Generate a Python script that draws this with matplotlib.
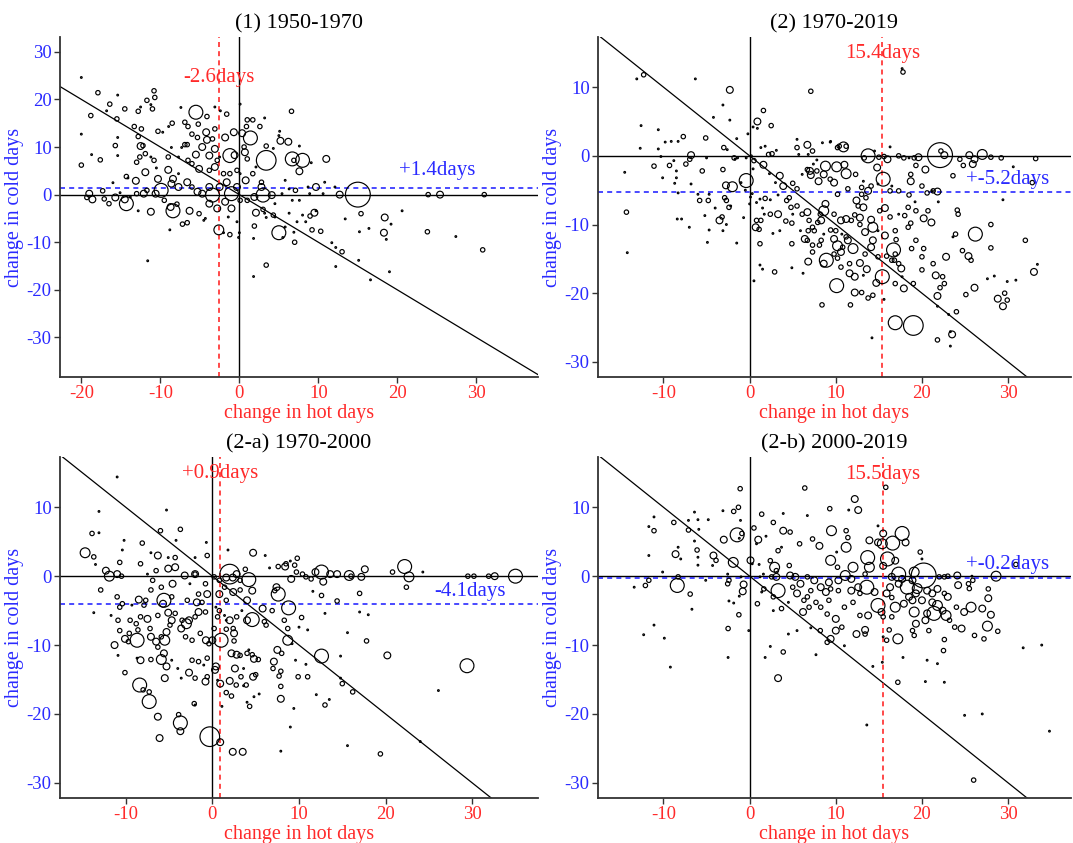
import numpy as np
import matplotlib
matplotlib.use('Agg')
from matplotlib import pyplot as plt

plt.rcParams['font.family'] = ['Liberation Serif', 'DejaVu Serif']
plt.rcParams['axes.unicode_minus'] = False

# (change in hot days, change in cold days, weight class)
p1_points = [
    (-20.0, 24.6, 0), (-17.9, 21.4, 1), (-15.4, 20.9, 0), (-18.8, 16.6, 1), (-20.0, 12.7, 0),
    (-20.0, 6.2, 1), (-17.6, 7.3, 1), (-18.7, 8.4, 0), (-16.4, 19.0, 1), (-16.8, 17.6, 0),
    (-15.5, 15.9, 1), (-14.5, 18.0, 1), (-15.4, 12.0, 0), (-15.7, 10.3, 1), (-15.4, 8.2, 0),
    (-13.3, 14.3, 1), (-12.4, 13.8, 1), (-12.8, 12.2, 1), (-12.8, 17.5, 1), (-12.5, 18.4, 0),
    (-11.7, 19.8, 1), (-10.8, 21.8, 1), (-10.7, 20.4, 1), (-11.0, 18.0, 1), (-11.2, 18.9, 0),
    (-12.5, 10.2, 2), (-12.2, 10.3, 1), (-10.3, 13.3, 1), (-9.7, 13.1, 0), (-11.9, 8.6, 1),
    (-12.6, 7.9, 1), (-13.0, 6.8, 1), (-11.9, 4.7, 2), (-13.1, 2.9, 2), (-14.3, 3.8, 1),
    (-14.1, 3.5, 0), (-16.0, 2.5, 0), (-11.2, 7.9, 0), (-10.8, 7.2, 1), (-10.3, 3.3, 2),
    (-10.5, 5.6, 0), (-9.0, 5.2, 2), (-8.4, 3.3, 2), (-7.7, 4.4, 0), (-9.0, 7.9, 1),
    (-8.6, 9.9, 0), (-7.7, 7.9, 0), (-7.3, 9.9, 0), (-8.95, 14.3, 0), (-8.5, 15.0, 1),
    (-7.4, 18.3, 0), (-6.9, 15.2, 1), (-6.5, 14.3, 1), (-5.5, 17.3, 4), (-4.1, 16.4, 1),
    (-5.2, 14.8, 1), (-6.0, 12.7, 1), (-6.6, 10.5, 1), (-6.9, 10.5, 1), (-5.3, 12.0, 1),
    (-4.2, 13.1, 2), (-4.1, 11.5, 2), (-4.7, 10.0, 2), (-5.5, 8.4, 2), (-3.8, 8.2, 2),
    (-3.1, 18.4, 0), (-2.4, 17.6, 0), (-1.6, 16.9, 1), (-3.1, 13.8, 1), (-3.4, 11.7, 1),
    (-3.1, 9.6, 2), (-2.5, 7.9, 0), (-2.8, 7.2, 1), (-3.1, 5.8, 2), (-1.8, 12.0, 2),
    (-0.7, 13.1, 2), (-1.2, 8.2, 4), (-0.6, 8.3, 2), (0.1, 19.0, 0), (0.35, 12.9, 2),
    (1.4, 11.9, 4), (0.6, 10.0, 1), (0.7, 8.9, 2), (1.0, 7.5, 1), (0.9, 14.3, 1),
    (1.7, 15.7, 1), (1.0, 15.7, 1), (2.6, 14.3, 1), (3.2, 16.1, 0), (3.4, 10.2, 1),
    (3.4, 7.2, 5), (4.3, 9.7, 0), (5.0, 12.4, 0), (5.1, 13.3, 0), (5.2, 11.3, 2),
    (6.2, 11.1, 2), (6.6, 17.5, 1), (7.6, 10.2, 0), (6.7, 7.5, 4), (8.0, 7.2, 4),
    (7.6, 4.9, 2), (6.9, 7.2, 1), (9.1, 6.7, 0), (11.0, 7.5, 2), (10.8, 2.6, 0),
    (9.7, 1.6, 2), (8.7, 1.6, 0), (12.1, 1.6, 0), (12.7, 0.0, 2), (15.0, 0.0, 6),
    (23.9, 0.0, 1), (25.4, 0.0, 2), (31.0, 0.0, 1), (20.6, -3.4, 0), (18.4, -4.8, 2),
    (19.2, -6.2, 0), (18.3, -8.0, 2), (18.6, -9.4, 0), (15.4, -4.0, 1), (13.4, -5.1, 0),
    (15.2, -7.8, 0), (16.4, -7.1, 0), (23.8, -7.8, 1), (27.4, -8.8, 0), (30.8, -11.6, 1),
    (19.0, -16.2, 0), (16.6, -17.9, 0), (15.1, -13.8, 0), (13.0, -12.0, 1), (12.2, -11.1, 0),
    (11.7, -10.1, 0), (12.2, -15.1, 0), (10.3, -7.7, 1), (9.2, -7.4, 1), (9.5, -3.8, 2),
    (9.7, -3.4, 0), (8.95, -4.5, 1), (8.4, -5.7, 0), (7.3, -5.7, 0), (7.0, -10.0, 1),
    (6.9, -7.9, 0), (5.0, -8.0, 4), (5.5, -9.0, 0), (3.4, -14.8, 1), (1.8, -17.2, 0),
    (1.8, -9.2, 0), (1.9, -6.6, 1), (2.1, -3.8, 2), (3.0, -3.1, 1), (4.5, -4.7, 0),
    (4.3, -4.3, 1), (3.4, -4.8, 0), (-0.3, -5.7, 0), (0.0, -8.0, 0), (-0.1, -9.0, 0),
    (-1.2, -8.4, 1), (-2.0, -8.0, 0), (-2.6, -7.4, 3), (-1.4, -4.7, 0), (-1.0, -2.9, 2),
    (-1.8, -1.5, 2), (-2.8, -2.9, 2), (-3.8, -1.9, 2), (-4.3, -5.0, 0), (-4.5, -5.4, 0),
    (-5.1, -4.0, 1), (-6.3, -3.4, 2), (-6.6, -5.9, 1), (-7.2, -6.2, 1), (-8.8, -7.4, 0),
    (-8.4, -3.4, 4), (-8.7, -2.6, 2), (-7.9, -2.0, 1), (-11.2, -3.6, 2), (-11.6, -13.9, 0),
    (-12.8, -3.4, 0), (-14.3, -1.9, 4), (-14.5, -1.0, 2), (-15.7, -0.6, 2), (-16.5, -1.9, 1),
    (-17.1, -0.9, 1), (-19.0, 0.2, 2), (-18.6, -1.0, 2), (-19.3, -0.6, 1), (-17.3, 0.8, 1),
    (-15.1, 0.4, 0), (-13.8, -0.5, 0), (-13.0, 0.2, 1), (-12.1, 0.2, 2), (-11.7, 0.9, 1),
    (-10.6, 0.2, 2), (-9.9, 0.9, 4), (-9.5, -1.2, 1), (-8.6, 2.3, 2), (-7.7, 1.6, 2),
    (-6.6, 2.6, 2), (-6.0, 1.6, 1), (-5.3, 0.6, 2), (-4.7, 0.2, 2), (-3.8, 1.6, 2),
    (-3.4, -0.1, 4), (-2.5, 1.6, 2), (-1.6, 2.6, 2), (-1.0, 0.2, 4), (-0.3, 1.6, 2),
    (0.1, 4.4, 0), (0.8, 3.0, 2), (1.9, -0.5, 2), (2.8, 1.6, 2), (3.0, -0.1, 4),
    (4.1, -0.1, 2), (1.0, -1.2, 1), (0.1, -1.2, 1), (2.8, 2.6, 1), (2.1, 5.8, 0),
    (1.7, 4.4, 1), (-0.3, 5.1, 1), (-1.2, 4.4, 1), (-2.0, 4.4, 1), (-3.8, 5.1, 1),
    (-5.1, 5.4, 2), (-6.0, 6.5, 1), (-6.5, 7.2, 1), (5.8, 3.0, 0), (5.4, 0.2, 0),
    (6.3, 1.2, 0), (7.1, 0.9, 1), (6.7, -1.2, 0), (7.6, -1.2, 0), (8.9, 0.2, 0),
    (10.6, 0.2, 0), (8.0, -4.3, 0), (6.3, -3.9, 0), (4.5, -1.9, 0), (3.2, -3.9, 0),
    (5.8, -6.8, 0),
]

p2_points = [
    (-13.1, 11.2, 0), (-12.3, 11.8, 1), (-12.6, 4.4, 0), (-12.7, 1.1, 0), (-14.5, -2.4, 0),
    (-14.3, -8.2, 1), (-14.2, -14.1, 0), (-6.3, 11.2, 0), (-2.3, 9.6, 2), (-3.1, 7.4, 0),
    (-4.2, 5.6, 0), (-2.3, 5.2, 0), (-0.2, 3.2, 0), (-1.5, 2.5, 0), (-5.1, 2.6, 1),
    (-7.7, 2.8, 1), (-8.3, 2.1, 0), (-9.1, 2.1, 0), (-9.8, 2.0, 0), (-10.6, 3.8, 0),
    (-10.6, 1.0, 0), (-10.3, -0.1, 0), (-11.1, -1.5, 1), (-9.3, -1.4, 1), (-8.8, -0.7, 0),
    (-8.5, -2.2, 0), (-8.5, -3.2, 0), (-8.7, -4.0, 0), (-10.1, -3.2, 0), (-8.3, -5.4, 0),
    (-8.4, -9.2, 0), (-7.9, -9.2, 0), (-7.0, -10.4, 0), (-6.8, 0.1, 2), (-6.95, -0.5, 1),
    (-7.4, -1.2, 1), (-6.8, -4.1, 0), (-6.0, -5.6, 0), (-5.5, -2.2, 1), (-5.0, -0.3, 0),
    (-5.8, -6.5, 1), (-4.7, -5.6, 0), (-4.8, -6.5, 1), (-5.2, -8.7, 0), (-4.7, -10.8, 0),
    (-4.9, -12.6, 0), (-3.5, -9.4, 2), (-3.2, -8.9, 1), (-2.7, -10.0, 0), (-3.1, -10.9, 0),
    (-4.0, -7.6, 0), (-2.9, -6.1, 1), (-2.7, -6.5, 1), (-2.2, -7.3, 0), (-2.4, -7.5, 1),
    (-2.0, -4.5, 3), (-2.75, -4.3, 2), (-3.1, -2.0, 1), (-3.0, 1.2, 1), (-2.6, 0.9, 0),
    (-1.8, -0.3, 1), (-1.4, -0.3, 0), (-1.0, -3.9, 0), (-0.4, -3.6, 4), (-0.5, -5.0, 0),
    (-0.7, -9.0, 0), (-1.5, -12.7, 0), (-1.7, -0.5, 0), (-0.4, -0.3, 0), (0.2, 0.0, 0),
    (0.5, -0.7, 1), (0.4, -1.9, 0), (0.0, -7.0, 0), (0.1, -6.0, 0), (0.3, -5.5, 0),
    (0.9, 5.0, 2), (1.6, 6.6, 1), (0.4, 4.2, 0), (0.9, 4.0, 0), (1.8, 1.4, 0),
    (1.3, 1.2, 0), (2.5, 4.4, 1), (3.1, 0.8, 0), (2.2, 0.2, 1), (2.6, 0.3, 1),
    (1.6, -1.3, 2), (2.3, -2.6, 0), (3.0, -3.9, 0), (3.5, -2.9, 2), (3.9, -4.4, 2),
    (4.6, -6.1, 1), (3.3, -5.7, 0), (2.4, -6.4, 0), (1.8, -6.2, 1), (1.2, -6.3, 0),
    (0.8, -6.8, 0), (1.5, -7.6, 0), (0.8, -9.4, 1), (1.3, -9.4, 1), (0.7, -10.4, 2),
    (1.1, -10.7, 1), (1.2, -12.8, 1), (2.7, -11.3, 0), (3.5, -10.9, 0), (3.3, -8.5, 2),
    (2.4, -8.5, 1), (1.7, -8.5, 0), (4.8, -7.5, 1), (5.0, -8.5, 0), (4.2, -9.5, 1),
    (4.9, -9.8, 1), (5.9, -10.9, 0), (4.9, -12.8, 1), (6.4, -12.1, 2), (6.7, -12.3, 1),
    (6.8, -10.9, 1), (7.3, -13.0, 1), (7.3, -14.0, 1), (6.8, -15.4, 2), (6.2, -17.1, 0),
    (4.9, -16.3, 0), (2.9, -16.9, 1), (1.5, -16.5, 0), (1.2, -15.9, 0), (0.5, -18.2, 0),
    (6.7, 1.6, 2), (6.8, 0.2, 0), (5.7, 0.2, 0), (5.5, 1.2, 1), (7.3, 0.7, 1),
    (8.45, 1.9, 0), (9.35, 2.0, 0), (10.2, 1.2, 1), (10.9, 1.3, 3), (11.2, 1.4, 1),
    (13.75, 0.0, 4), (13.3, -0.3, 1), (14.5, 0.7, 0), (15.0, -0.2, 1), (15.6, -0.1, 1),
    (16.3, 1.3, 0), (16.0, -0.5, 2), (17.3, 0.0, 1), (17.9, -0.3, 1), (18.5, -0.3, 0),
    (19.1, -0.3, 1), (19.6, -0.2, 2), (22.1, 0.1, 6), (22.6, 0.1, 2), (22.2, 0.7, 1),
    (24.4, -0.5, 1), (24.8, -1.4, 1), (25.5, 0.1, 2), (25.9, -1.2, 2), (26.1, -0.5, 2),
    (27.0, 0.2, 3), (28.0, -0.2, 1), (29.2, -0.3, 1), (33.2, -0.4, 1), (30.6, -1.6, 0),
    (29.4, -6.4, 0), (32.8, -3.9, 1), (32.0, -12.3, 1), (33.0, -16.9, 2), (33.4, -15.8, 0),
    (30.9, -18.1, 0), (29.9, -18.3, 0), (28.4, -17.5, 0), (27.6, -17.9, 0), (28.8, -20.8, 2),
    (29.6, -20.0, 1), (29.4, -21.9, 2), (29.9, -21.0, 1), (28.0, -10.0, 1), (28.0, -13.4, 1),
    (26.2, -11.4, 4), (26.1, -19.2, 2), (25.1, -20.2, 1), (25.4, -14.6, 2), (25.7, -15.2, 1),
    (24.7, -13.8, 1), (23.9, -11.4, 1), (23.6, -11.8, 0), (24.1, -7.9, 1), (24.2, -8.5, 1),
    (23.6, -2.9, 1), (21.9, -6.7, 0), (21.8, -5.2, 2), (21.2, -5.1, 0), (20.6, -5.4, 1),
    (20.0, -4.4, 1), (20.4, -2.0, 2), (19.3, -1.4, 1), (18.7, -2.7, 1), (18.7, -3.7, 2),
    (18.5, -5.7, 1), (19.2, -6.7, 0), (18.4, -7.5, 1), (18.0, -8.7, 1), (18.7, -9.8, 1),
    (18.4, -10.4, 1), (19.3, -8.0, 1), (20.7, -8.0, 1), (20.2, -9.1, 2), (21.1, -9.7, 2),
    (21.3, -5.1, 1), (16.9, -10.9, 1), (17.0, -12.2, 1), (16.7, -13.7, 4), (16.9, -14.3, 1),
    (16.5, -15.2, 1), (17.3, -15.7, 1), (17.6, -16.4, 2), (17.7, -17.6, 0), (16.9, -18.6, 1),
    (17.9, -19.3, 2), (19.0, -18.6, 1), (19.3, -12.3, 1), (18.8, -13.5, 1), (20.0, -14.7, 1),
    (20.0, -16.6, 1), (20.2, -13.5, 1), (21.6, -17.4, 2), (21.3, -15.7, 1), (22.8, -14.7, 2),
    (22.4, -17.6, 1), (21.8, -20.4, 2), (21.8, -21.9, 0), (22.1, -19.2, 1), (22.6, -18.6, 1),
    (24.0, -22.7, 1), (23.5, -26.0, 2), (23.3, -25.6, 0), (21.8, -26.8, 1), (23.3, -27.7, 0),
    (23.1, -23.1, 0), (19.0, -24.7, 5), (16.9, -24.3, 4), (14.2, -26.5, 0), (15.6, -20.9, 0),
    (11.7, -21.7, 1), (8.4, -21.7, 1), (12.2, -19.9, 2), (13.0, -19.9, 1), (13.75, -20.7, 1),
    (14.3, -20.3, 1), (14.7, -18.5, 2), (15.4, -17.6, 4), (10.1, -18.9, 4), (8.9, -15.2, 4),
    (8.6, -15.7, 2), (10.6, -16.2, 1), (11.6, -15.7, 1), (11.6, -17.1, 2), (12.2, -17.6, 2),
    (12.8, -15.6, 2), (13.6, -16.5, 2), (13.2, -17.4, 0), (14.1, -13.3, 2), (13.4, -14.3, 1),
    (14.9, -14.7, 1), (14.3, -12.3, 2), (13.4, -11.1, 2), (12.8, -10.0, 1), (14.3, -10.4, 3),
    (14.1, -9.3, 2), (15.7, -11.6, 2), (14.9, -10.9, 0), (12.0, -13.5, 3), (11.4, -12.3, 2),
    (10.8, -13.3, 1), (10.2, -13.1, 3), (10.6, -14.0, 2), (9.8, -12.1, 2), (11.2, -11.8, 1),
    (10.0, -10.9, 1), (9.4, -10.8, 1), (8.6, -11.4, 0), (8.3, -9.4, 2), (8.6, -8.0, 3),
    (8.2, -8.5, 1), (8.8, -7.0, 2), (9.8, -8.5, 1), (10.6, -9.4, 2), (11.2, -9.2, 2),
    (11.8, -9.4, 1), (12.2, -8.6, 1), (12.8, -9.0, 2), (12.6, -7.3, 1), (13.2, -7.5, 2),
    (12.4, -6.5, 2), (13.0, -5.6, 1), (13.5, -6.1, 1), (13.75, -5.1, 2), (13.0, -4.6, 1),
    (11.4, -4.8, 1), (10.2, -5.6, 1), (9.8, -3.9, 2), (9.35, -3.4, 1), (8.6, -2.7, 2),
    (8.0, -3.7, 2), (7.8, -2.2, 1), (7.0, -2.2, 2), (7.1, -2.8, 2), (6.7, -2.0, 1),
    (6.1, -2.7, 0), (5.0, -4.0, 1), (5.5, -4.8, 1), (4.3, -6.5, 1), (6.1, -8.5, 1),
    (5.5, -7.3, 1), (6.7, -8.2, 2), (6.9, -9.4, 1), (7.3, -10.4, 1), (7.9, -9.7, 1),
    (7.5, -10.9, 1), (8.3, -12.3, 1), (8.1, -13.0, 1), (9.8, -14.3, 1), (10.2, -14.9, 1),
    (10.7, -11.4, 0), (7.4, -1.2, 0), (7.8, -0.6, 0), (8.8, -1.5, 3), (10.1, -1.6, 3),
    (11.0, -1.3, 2), (11.2, -2.6, 3), (12.3, -2.7, 1), (13.2, -3.7, 0), (14.1, -4.4, 1),
    (14.8, -1.7, 2), (15.5, -3.4, 4), (14.9, -4.1, 0), (16.5, -4.4, 0), (17.3, -5.1, 1),
    (16.3, -5.1, 1), (16.3, -8.9, 1), (15.7, -7.6, 2), (17.3, -8.5, 0), (15.1, -8.0, 1),
    (15.9, -14.6, 1), (16.8, -15.2, 1), (17.8, 12.2, 1), (17.7, 12.7, 0), (7.1, 9.4, 1),
    (5.5, 2.4, 0), (9.4, 2.1, 0), (10.4, 1.4, 1),
]

p3_points = [
    (-11.0, 14.4, 0), (-13.1, 9.4, 0), (-5.3, 9.6, 0), (-13.9, 6.2, 1), (-13.1, 6.3, 0),
    (-6.0, 6.6, 1), (-3.7, 6.8, 1), (-14.7, 3.4, 3), (-13.7, 2.8, 1), (-13.5, 1.7, 0),
    (-12.3, 0.8, 2), (-11.9, 0.0, 3), (-11.0, 0.3, 2), (-12.9, -2.0, 1), (-13.7, -5.3, 0),
    (-11.0, -3.0, 1), (-10.7, 2.0, 1), (-10.2, 5.2, 0), (-10.4, 3.8, 0), (-10.5, 0.0, 1),
    (-10.4, -4.0, 1), (-10.7, -4.5, 1), (-11.7, -5.7, 0), (-10.9, -6.4, 1), (-10.7, -7.9, 1),
    (-10.1, -9.1, 2), (-11.3, -10.0, 2), (-10.9, -11.5, 0), (-10.1, -14.0, 1), (-9.7, -9.5, 1),
    (-9.6, -8.3, 1), (-8.7, -9.3, 4), (-8.3, -12.2, 2), (-8.7, -11.9, 0), (-8.4, -15.8, 4),
    (-8.0, -16.5, 1), (-7.3, -18.2, 4), (-7.3, -16.8, 1), (-6.3, -20.4, 2), (-6.1, -23.5, 2),
    (-3.7, -21.3, 4), (-3.7, -22.5, 2), (-3.9, -20.1, 1), (-2.1, -18.5, 1), (-2.0, -18.7, 0),
    (-0.3, -23.3, 5), (0.9, -24.1, 2), (2.35, -25.5, 2), (3.5, -25.5, 2), (0.9, -15.6, 2),
    (0.6, -15.1, 0), (-0.8, -15.3, 2), (-0.6, -14.6, 1), (0.3, -13.6, 2), (0.4, -13.1, 2),
    (1.1, -18.9, 0), (1.6, -16.9, 1), (2.2, -17.4, 1), (2.75, -15.8, 1), (2.0, -15.2, 2),
    (3.6, -15.9, 0), (3.9, -15.8, 1), (4.0, -18.3, 0), (4.3, -18.9, 1), (4.8, -17.5, 0),
    (5.4, -17.1, 0), (4.7, -14.6, 2), (5.0, -14.3, 1), (3.3, -14.6, 1), (2.6, -13.4, 2),
    (3.6, -13.4, 0), (4.8, -12.0, 2), (5.3, -12.1, 1), (4.6, -11.4, 1), (4.0, -11.2, 1),
    (4.2, -10.7, 0), (3.2, -11.5, 1), (2.8, -11.4, 2), (2.2, -11.2, 2), (2.5, -9.4, 1),
    (2.5, -8.3, 2), (2.4, -7.6, 1), (1.6, -7.7, 1), (2.0, -6.4, 2), (2.8, -5.9, 1),
    (3.4, -5.0, 0), (4.0, -6.4, 2), (4.6, -6.3, 4), (5.8, -4.7, 2), (6.0, -6.6, 1),
    (6.2, -7.1, 1), (6.9, -5.0, 1), (7.6, -2.6, 4), (7.2, -2.1, 1), (7.4, -1.6, 2),
    (8.8, -4.6, 4), (8.3, -6.4, 1), (8.7, -7.6, 1), (10.0, -7.4, 0), (11.0, -7.8, 0),
    (10.3, -6.0, 1), (8.7, -9.3, 3), (9.2, -9.8, 0), (7.5, -10.7, 2), (8.0, -11.2, 1),
    (7.1, -12.4, 2), (7.0, -13.4, 1), (7.9, -13.8, 1), (7.7, -14.5, 1), (7.9, -16.0, 1),
    (7.9, -17.8, 2), (9.4, -19.2, 0), (9.0, -21.9, 0), (7.9, -25.4, 0), (9.6, -12.2, 0),
    (10.8, -12.8, 0), (9.9, -14.6, 1), (11.0, -14.6, 1), (12.6, -11.6, 4), (14.8, -11.6, 0),
    (14.8, -14.8, 0), (15.0, -15.6, 1), (16.2, -16.8, 1), (12.0, -17.2, 0), (13.0, -18.7, 1),
    (13.5, -17.9, 0), (15.6, -24.6, 0), (19.4, -25.8, 1), (24.0, -24.0, 0), (26.1, -16.6, 0),
    (29.4, -13.0, 4), (20.2, -11.5, 2), (17.8, -9.4, 1), (15.6, -8.2, 0), (17.0, -5.2, 0),
    (18.0, -5.6, 0), (17.0, -2.5, 1), (14.4, -3.6, 1), (12.6, -2.8, 1), (13.0, -5.4, 0),
    (11.6, -2.2, 0), (14.4, 0.3, 2), (13.6, 0.3, 2), (12.8, -0.8, 2), (12.6, 0.6, 4),
    (11.9, 0.6, 2), (11.4, -0.4, 1), (10.8, -0.1, 1), (10.4, 0.3, 1), (9.7, 0.6, 1),
    (9.1, -0.4, 2), (8.4, 1.4, 2), (9.5, 1.6, 1), (9.8, 2.6, 1), (9.0, 2.2, 0),
    (8.5, 1.8, 1), (7.6, 1.4, 1), (6.6, 1.2, 0), (6.1, 3.0, 0), (4.7, 3.4, 2),
    (1.8, 3.8, 0), (2.0, 0.3, 5), (2.35, -0.2, 2), (1.6, -0.2, 2), (2.8, 0.3, 2),
    (4.2, -0.5, 4), (3.2, -0.6, 1), (3.8, 1.0, 1), (1.4, -1.6, 1), (0.8, -2.6, 2),
    (1.6, -3.5, 1), (2.4, -2.3, 2), (3.2, -2.0, 1), (4.6, -2.1, 2), (4.0, -3.5, 2),
    (0.8, -0.6, 1), (0.2, -0.1, 1), (-0.8, -1.1, 1), (-0.6, -2.6, 2), (-1.6, -2.6, 1),
    (-2.0, 0.3, 1), (-2.6, -1.1, 0), (-2.9, -3.5, 1), (-1.8, -3.8, 2), (-1.2, -3.8, 1),
    (-0.8, -5.2, 1), (-1.6, -5.2, 2), (-2.0, -5.9, 1), (-2.7, -6.4, 2), (-3.0, -6.9, 3),
    (-3.5, -6.4, 1), (-3.6, -7.6, 2), (-3.1, -8.8, 1), (-2.35, -9.3, 1), (-1.4, -8.3, 1),
    (-0.75, -9.3, 2), (-0.4, -9.8, 1), (0.0, -9.3, 2), (1.0, -9.3, 4), (0.2, -7.6, 1),
    (0.6, -5.9, 1), (0.8, -5.0, 1), (0.4, -4.5, 0), (1.4, -5.7, 0), (1.6, -6.4, 0),
    (-4.3, -5.4, 1), (-4.7, -6.4, 2), (-4.9, -7.1, 1), (-5.3, -8.1, 2), (-5.5, -9.3, 3),
    (-5.9, -8.8, 1), (-6.5, -9.5, 2), (-6.3, -10.3, 1), (-5.6, -11.2, 2), (-5.9, -12.1, 3),
    (-5.3, -13.1, 2), (-5.5, -14.8, 2), (-4.7, -12.2, 0), (-4.0, -13.4, 0), (-3.6, -14.8, 0),
    (-2.7, -14.0, 2), (-2.0, -14.8, 1), (-2.35, -12.2, 1), (-1.6, -12.4, 1), (-1.0, -12.9, 0),
    (-0.6, -11.9, 1), (-7.1, -12.1, 1), (-7.1, -8.8, 2), (-7.2, -7.6, 1), (-7.5, -6.2, 2),
    (-8.3, -5.9, 1), (-8.6, -7.8, 1), (-8.8, -6.9, 1), (-9.5, -6.4, 1), (-6.3, -5.7, 1),
    (-5.7, -4.0, 2), (-5.1, -5.3, 2), (-5.6, -3.5, 4), (-4.7, -3.0, 1), (-4.6, -1.1, 2),
    (-5.9, -1.6, 1), (-6.9, -0.6, 1), (-7.1, -2.0, 1), (-7.7, -3.5, 1), (-8.5, -3.4, 2),
    (-7.9, -4.2, 1), (-9.3, -4.2, 0), (-4.3, 1.3, 2), (-5.1, 1.1, 2), (-6.3, 3.0, 2),
    (-6.5, 0.8, 1), (-7.5, 0.3, 0), (-8.3, 1.8, 1), (-8.1, 4.8, 1), (-7.1, 3.4, 0),
    (-4.3, 2.7, 1), (-5.1, 2.7, 0), (-2.0, 2.7, 0), (-2.0, 0.3, 2), (-3.2, 0.1, 2),
    (-0.7, 4.9, 0), (-0.6, 3.0, 1), (-4.2, 5.2, 0), (15.8, 0.1, 3), (16.0, 0.0, 1),
    (17.2, -0.1, 2), (17.6, 1.0, 2), (20.8, 0.6, 1), (22.2, 1.4, 4), (22.7, -0.1, 3),
    (22.4, -1.6, 1), (24.3, 0.6, 0), (29.5, 0.0, 1), (30.2, 0.0, 1), (31.9, 0.0, 1),
    (32.6, 0.0, 2), (35.0, 0.0, 4),
]

p4_points = [
    (-13.4, -1.6, 0), (-12.1, -1.35, 1), (-11.7, -0.6, 1), (-11.7, 3.0, 0), (-11.7, 7.2, 0),
    (-11.1, 6.6, 1), (-11.1, 8.6, 0), (-12.3, -8.5, 0), (-11.1, -7.1, 0), (-9.9, -9.0, 0),
    (-9.2, -13.2, 0), (-10.1, 0.6, 0), (-8.8, 7.8, 1), (-8.6, 3.2, 2), (-8.3, 4.2, 0),
    (-8.0, 2.5, 0), (-8.4, -1.35, 4), (-8.3, -0.1, 1), (-7.1, 8.1, 0), (-7.1, 6.7, 1),
    (-6.4, 9.3, 0), (-6.0, 8.2, 0), (-6.1, 3.8, 1), (-6.0, 2.75, 0), (-6.0, 1.6, 0),
    (-6.4, 5.1, 0), (-5.9, 6.8, 0), (-4.8, 8.2, 0), (-5.1, -0.6, 0), (-6.9, -2.6, 1),
    (-6.7, -4.8, 0), (-4.2, 3.0, 2), (-4.3, 1.55, 0), (-3.9, 2.3, 1), (-3.1, 9.5, 0),
    (-3.0, 5.3, 2), (-2.55, 0.3, 0), (-2.4, -0.6, 1), (-2.55, -1.1, 1), (-2.5, -7.6, 1),
    (-2.5, -11.8, 0), (-2.4, -3.6, 0), (-1.85, -3.9, 0), (-1.9, 2.0, 3), (-1.2, -2.9, 0),
    (-1.85, 9.4, 1), (-1.3, 10.0, 1), (-1.1, 12.7, 1), (-1.06, 8.1, 0), (-1.45, 6.0, 4),
    (-1.2, 5.5, 0), (-0.9, 6.2, 1), (-1.25, -5.6, 1), (-0.7, -1.2, 2), (-0.8, -2.2, 2),
    (-1.0, -0.1, 0), (-0.1, -7.9, 0), (0.1, 2.3, 2), (0.3, 1.8, 0), (0.5, 7.0, 1),
    (1.0, 5.3, 2), (0.8, 4.7, 0), (0.9, -4.0, 1), (1.4, -2.3, 0), (1.4, 9.0, 1),
    (1.9, 5.8, 0), (2.75, 7.8, 1), (2.9, 1.3, 3), (2.4, 2.25, 1), (2.55, -0.1, 1),
    (3.1, -0.1, 2), (3.3, -2.1, 4), (3.9, 6.6, 2), (3.9, 9.1, 0), (4.7, 6.4, 1),
    (4.6, 1.55, 1), (3.3, 3.7, 1), (3.7, 4.2, 0), (2.75, -5.0, 0), (3.7, -4.7, 1),
    (2.4, -10.2, 0), (3.9, -11.0, 1), (1.8, -11.8, 0), (3.3, -14.8, 2), (4.5, -8.4, 0),
    (5.3, -0.1, 2), (5.9, -1.1, 2), (6.3, -3.5, 1), (6.2, -5.2, 2), (5.8, 4.7, 1),
    (5.5, -7.9, 0), (6.7, 8.8, 0), (6.4, 12.8, 1), (7.3, 5.4, 1), (8.1, 4.4, 2),
    (8.2, -7.9, 1), (7.7, -11.4, 0), (7.1, -7.5, 0), (7.5, -0.6, 2), (8.25, -1.6, 2),
    (6.7, -0.1, 1), (8.85, -2.3, 2), (9.3, 9.8, 1), (9.5, 6.6, 3), (9.4, 2.3, 3),
    (9.2, -0.9, 2), (9.4, -1.85, 1), (9.2, -3.5, 1), (9.0, -5.5, 1), (9.4, -9.1, 2),
    (9.0, -9.6, 1), (10.0, -7.9, 2), (10.0, -6.2, 2), (10.3, -2.1, 1), (10.3, -0.6, 2),
    (10.2, 1.3, 1), (10.1, 3.5, 0), (11.5, 9.6, 0), (11.2, 4.2, 3), (11.4, 5.6, 1),
    (11.2, 6.6, 1), (11.1, 0.1, 3), (12.0, 1.3, 3), (12.2, 11.2, 2), (12.6, 9.6, 2),
    (12.4, -8.4, 2), (13.4, -7.8, 2), (13.4, -8.4, 1), (12.8, -5.7, 1), (13.75, -5.7, 2),
    (13.7, 2.7, 4), (13.9, 1.3, 3), (13.9, 5.2, 2), (13.6, -1.6, 4), (13.4, 0.3, 1),
    (14.9, 4.9, 2), (14.9, 7.3, 0), (15.5, 6.2, 2), (15.4, 4.7, 3), (16.0, 2.5, 4),
    (15.5, 1.5, 2), (14.9, -4.25, 4), (15.3, -5.2, 2), (15.5, -5.9, 1), (15.8, 12.9, 1),
    (16.6, 4.8, 4), (16.9, 2.25, 2), (17.3, 0.3, 4), (17.3, -1.1, 2), (16.9, -4.5, 3),
    (16.5, -5.9, 1), (17.2, -9.1, 3), (15.9, -9.3, 1), (16.2, -7.8, 1), (17.7, 6.2, 4),
    (18.1, 4.9, 2), (18.3, -1.6, 4), (18.5, -3.0, 2), (17.9, -4.0, 2), (19.1, 0.6, 3),
    (19.8, 3.5, 1), (20.0, 2.5, 0), (20.2, 0.1, 6), (19.45, -1.8, 3), (18.9, -3.5, 2),
    (19.1, -5.2, 3), (19.3, -6.9, 2), (18.9, -7.9, 1), (19.1, -8.6, 1), (20.6, -5.4, 2),
    (21.2, -2.5, 2), (21.8, -4.25, 3), (21.4, -5.4, 4), (20.4, -6.4, 2), (20.8, -7.9, 1),
    (20.6, -12.2, 0), (21.8, -12.7, 0), (20.4, -15.3, 0), (22.6, -15.4, 0), (22.5, -10.8, 1),
    (22.6, -9.2, 1), (23.0, -3.0, 2), (22.4, -5.0, 2), (22.8, -5.7, 3), (23.2, -6.4, 1),
    (23.8, -7.4, 1), (24.6, -7.6, 2), (24.0, -4.5, 1), (23.0, 0.0, 1), (24.1, 0.1, 2),
    (24.2, -1.3, 2), (24.9, -5.2, 2), (25.7, -4.5, 3), (25.5, -1.8, 1), (25.4, -1.1, 1),
    (25.9, -0.6, 1), (25.8, 0.0, 0), (28.6, 0.0, 3), (27.0, -4.7, 2), (27.7, -3.2, 2),
    (27.7, -1.85, 1), (28.0, -5.6, 2), (27.6, -7.25, 3), (27.2, -9.1, 1), (28.8, -8.0, 1),
    (26.1, -8.6, 1), (24.95, -20.2, 0), (27.0, -20.0, 0), (26.0, -29.6, 1), (31.75, -10.4, 0),
    (33.9, -10.0, 0), (34.8, -22.5, 0), (30.9, 1.7, 1), (22.6, -0.1, 1), (22.0, -0.1, 1),
    (14.3, -13.1, 0), (15.4, -12.5, 0), (13.6, -21.6, 0), (17.8, -11.8, 0), (17.2, -15.4, 1),
    (15.5, -8.8, 0), (11.0, -10.1, 0), (10.7, -7.4, 1), (4.7, 0.1, 2), (3.1, 0.8, 1),
    (1.6, 0.3, 0), (1.1, 1.7, 0), (1.2, -0.1, 0), (1.65, -1.85, 1), (2.75, -3.0, 1),
    (5.0, -1.6, 1), (5.5, -2.5, 2), (6.7, -3.0, 1), (7.1, -2.1, 1), (7.7, -3.8, 1),
    (6.9, -4.5, 1), (8.25, -4.5, 1), (4.5, -3.8, 0), (11.8, -0.4, 2), (11.8, -2.1, 2),
    (12.6, -1.6, 2), (12.8, -2.5, 1), (11.0, -4.5, 1), (12.0, -3.8, 1), (14.5, -2.3, 2),
    (15.9, -2.5, 2), (16.3, -1.6, 2), (16.5, -0.1, 2), (17.7, -0.4, 2), (18.9, -0.6, 2),
    (19.3, -2.5, 2), (20.0, -3.5, 2), (20.6, -2.1, 2), (21.2, -3.8, 2), (21.8, -1.85, 2),
    (22.6, -2.5, 1), (16.5, -3.1, 1),
]

titles = ['(1) 1950-1970', '(2) 1970-2019', '(2-a) 1970-2000', '(2-b) 2000-2019']
mean_hot = [-2.6, 15.4, 0.9, 15.5]
mean_cold = [1.4, -5.2, -4.1, -0.2]
hot_labels = ['-2.6days', '15.4days', '+0.9days', '15.5days']
cold_labels = ['+1.4days', '+-5.2days', '-4.1days', '+-0.2days']

RED = '#ff2a2a'
BLUE = '#2a2aff'
# marker area for each weight class
AREA = [1.5, 10, 24, 50, 100, 200, 320]

W, H = 1073, 843
fig = plt.figure(figsize=(W / 100, H / 100), dpi=100)


def box(x0, x1, top, bottom):
    return [x0 / W, 1 - bottom / H, (x1 - x0) / W, (bottom - top) / H]


panels = [
    dict(pts=p1_points, rect=box(60, 538, 37, 377), xlim=(-22.7, 37.8), ylim=(-38.3, 33.1),
         xt=[-20, -10, 0, 10, 20, 30], yt=[-30, -20, -10, 0, 10, 20, 30],
         hot_y=24.7, cold_xy=(25.0, 5.1)),
    dict(pts=p2_points, rect=box(598, 1071, 37, 377), xlim=(-17.6, 37.3), ylim=(-32.2, 17.3),
         xt=[-10, 0, 10, 20, 30], yt=[-30, -20, -10, 0, 10],
         hot_y=14.9, cold_xy=(29.9, -3.4)),
    dict(pts=p3_points, rect=box(60, 538, 457, 798), xlim=(-17.6, 37.6), ylim=(-32.2, 17.3),
         xt=[-10, 0, 10, 20, 30], yt=[-30, -20, -10, 0, 10],
         hot_y=14.9, cold_xy=(29.8, -2.2)),
    dict(pts=p4_points, rect=box(598, 1071, 457, 798), xlim=(-17.6, 37.3), ylim=(-32.2, 17.3),
         xt=[-10, 0, 10, 20, 30], yt=[-30, -20, -10, 0, 10],
         hot_y=14.8, cold_xy=(29.9, 1.7)),
]

for i, p in enumerate(panels):
    ax = fig.add_axes(p['rect'])
    pts = np.array(p['pts'])
    sizes = np.array(AREA)[pts[:, 2].astype(int)]

    ax.axhline(0, color='black', lw=1.0, zorder=1)
    ax.axvline(0, color='black', lw=1.0, zorder=1)
    xs = np.array(p['xlim'])
    ax.plot(xs, -xs, color='black', lw=0.9, zorder=1)
    ax.axvline(mean_hot[i], color=RED, lw=1.2, ls=(0, (3, 2.5)), zorder=2)
    ax.axhline(mean_cold[i], color=BLUE, lw=1.2, ls=(0, (3, 2.5)), zorder=2)

    ax.scatter(pts[:, 0], pts[:, 1], s=sizes, facecolors='none',
               edgecolors='black', linewidths=0.85, zorder=3)

    ax.text(mean_hot[i], p['hot_y'], hot_labels[i], color=RED, fontsize=15,
            ha='center', va='center', zorder=4)
    ax.text(p['cold_xy'][0], p['cold_xy'][1], cold_labels[i], color=BLUE, fontsize=15,
            ha='center', va='center', zorder=4)

    ax.set_xlim(p['xlim'])
    ax.set_ylim(p['ylim'])
    ax.set_xticks(p['xt'])
    ax.set_yticks(p['yt'])
    for s in ['top', 'right']:
        ax.spines[s].set_visible(False)
    for s in ['left', 'bottom']:
        ax.spines[s].set_color('#333333')
        ax.spines[s].set_linewidth(1.3)
    ax.tick_params(axis='both', direction='out', length=4, width=1, color='#333333',
                   labelsize=13.5, pad=2)
    ax.tick_params(axis='x', labelcolor=RED)
    ax.tick_params(axis='y', labelcolor=BLUE)
    ax.set_xlabel('change in hot days', color=RED, fontsize=14.5, labelpad=1)
    ax.set_ylabel('change in cold days', color=BLUE, fontsize=14.5, labelpad=2)
    ax.set_title(titles[i], fontsize=16, pad=6)

fig.savefig('out.png', dpi=100)
